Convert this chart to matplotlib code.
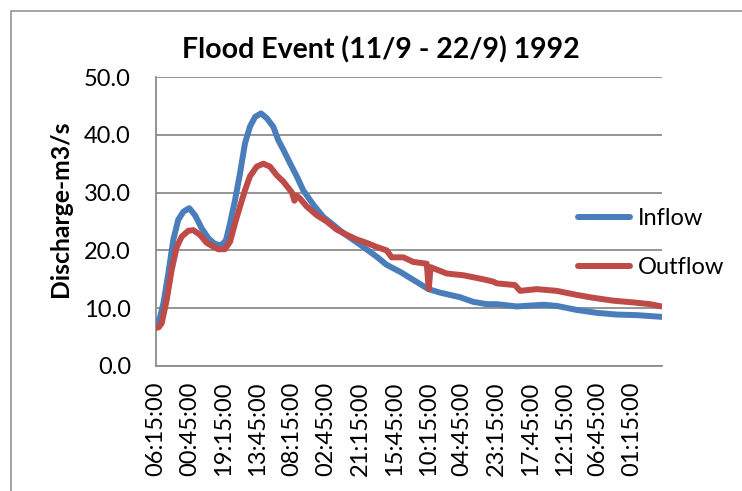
import matplotlib
matplotlib.use("Agg")
import matplotlib.pyplot as plt
from matplotlib.patches import Rectangle

# Hours elapsed since 11/9 06:15 and discharge (m3/s)
inflow_hours = [0.0, 2.0, 4.0, 6.7, 9.4, 12.1, 14.9, 18.1, 21.2, 24.9, 28.5, 32.1,
                35.7, 38.1, 40.3, 43.0, 45.7, 48.4, 51.1, 53.9, 57.1, 60.2, 63.8,
                66.5, 69.3, 72.9, 76.6, 80.1, 85.6, 91.0, 96.5, 101.9, 107.4,
                112.8, 120.1, 125.5, 132.8, 140.0, 148.2, 154.5, 165.4, 172.6,
                179.9, 185.4, 196.3, 210.7, 218.0, 228.9, 239.8, 250.7, 261.6,
                275.2]
inflow_values = [7.0, 8.2, 10.8, 16.0, 21.8, 25.3, 26.7, 27.3, 26.1, 23.8, 22.1, 21.1,
                 20.9, 21.8, 24.7, 28.7, 33.3, 38.5, 41.4, 43.1, 43.7, 42.9, 41.4,
                 39.1, 37.4, 35.1, 32.8, 30.4, 27.9, 25.8, 24.4, 23.0, 21.8,
                 20.6, 18.9, 17.5, 16.3, 14.9, 13.3, 12.7, 11.9, 11.1,
                 10.7, 10.7, 10.3, 10.6, 10.4, 9.7, 9.2, 8.9, 8.8,
                 8.5]

outflow_hours = [0.0, 1.5, 3.1, 5.8, 8.5, 11.3, 14.0, 17.6, 20.3, 23.9, 27.6, 30.3,
                 33.9, 37.5, 40.3, 43.0, 45.7, 48.4, 51.1, 54.8, 58.4, 62.0, 65.7,
                 69.3, 74.0, 75.3, 76.3, 78.3, 82.0, 87.4, 92.9, 98.3, 103.8,
                 109.2, 114.6, 120.1, 125.5, 128.2, 134.6, 140.0, 147.3, 148.4,
                 149.4, 158.2, 167.2, 178.1, 183.5, 185.4, 195.3, 198.1, 207.1,
                 218.0, 228.9, 237.9, 248.8, 259.7, 268.8, 275.2]
outflow_values = [6.6, 6.7, 7.4, 11.4, 16.6, 20.6, 22.4, 23.4, 23.5, 22.7, 21.3, 20.8,
                  20.2, 20.2, 21.5, 24.7, 27.6, 30.4, 32.8, 34.5, 35.0, 34.5, 33.0,
                  31.9, 30.0, 28.6, 29.5, 29.0, 27.6, 26.1, 25.0, 23.6, 22.7,
                  21.9, 21.3, 20.6, 20.0, 18.8, 18.8, 18.0, 17.7, 13.3,
                  17.1, 16.0, 15.7, 15.0, 14.6, 14.3, 14.0, 13.0, 13.3,
                  13.0, 12.3, 11.8, 11.3, 11.0, 10.7, 10.3]

tick_labels = ["06:15:00", "00:45:00", "19:15:00", "13:45:00", "08:15:00",
               "02:45:00", "21:15:00", "15:45:00", "10:15:00", "04:45:00",
               "23:15:00", "17:45:00", "12:15:00", "06:45:00", "01:15:00"]
label_step_hours = 18.5
axis_span_hours = 275.3

W, H = 742, 491
fig = plt.figure(figsize=(W / 100, H / 100), dpi=100)
fig.patch.set_facecolor("white")

# outer chart frame
fig.patches.append(Rectangle((11 / W, -0.1), 1.2, 1 - 11 / H + 0.1,
                             transform=fig.transFigure, fill=False,
                             edgecolor="#8c8c8c", linewidth=1.1))

ax = fig.add_axes([156 / W, 1 - 366 / H, (662 - 156) / W, (366 - 77) / H])

blue = "#4A7EBB"
red = "#BE4B48"
ax.plot(inflow_hours, inflow_values, color=blue, lw=4.3, solid_capstyle="round",
        solid_joinstyle="round", label="Inflow", zorder=3)
ax.plot(outflow_hours, outflow_values, color=red, lw=4.3, solid_capstyle="round",
        solid_joinstyle="round", label="Outflow", zorder=4)

ax.set_xlim(0, axis_span_hours)
ax.set_ylim(0, 50)
ax.set_yticks(range(0, 51, 10))
ax.set_yticklabels([f"{v:.1f}" for v in range(0, 51, 10)])
ax.set_xticks([i * label_step_hours for i in range(len(tick_labels))])
ax.set_xticklabels(tick_labels, rotation=90)

font = "Lato"
for lab in ax.get_xticklabels() + ax.get_yticklabels():
    lab.set_fontfamily(font)
    lab.set_fontsize(17)
    lab.set_color("black")

ax.tick_params(axis="both", length=0)
ax.tick_params(axis="y", pad=18)
ax.tick_params(axis="x", pad=11)

ax.grid(axis="y", color="#8c8c8c", lw=1.3)
ax.set_axisbelow(True)
for side in ("top", "right"):
    ax.spines[side].set_visible(False)
for side in ("left", "bottom"):
    ax.spines[side].set_color("#8c8c8c")
    ax.spines[side].set_linewidth(1.3)

fig.text(381 / W, 1 - 50 / H, "Flood Event (11/9 - 22/9) 1992", ha="center",
         va="center", fontsize=20.5, fontweight="bold", fontfamily=font)
fig.text(61 / W, 1 - 209 / H, "Discharge-m3/s", ha="center", va="center",
         rotation=90, fontsize=17.8, fontweight="bold", fontfamily=font)

leg = fig.legend(loc="upper left", bbox_to_anchor=(578 / W, 1 - 208 / H),
                 frameon=False, borderpad=0, borderaxespad=0,
                 handlelength=2.2, handletextpad=0.35,
                 labelspacing=1.2, prop={"family": font, "size": 17})

fig.savefig("out.png", dpi=100, facecolor="white")
